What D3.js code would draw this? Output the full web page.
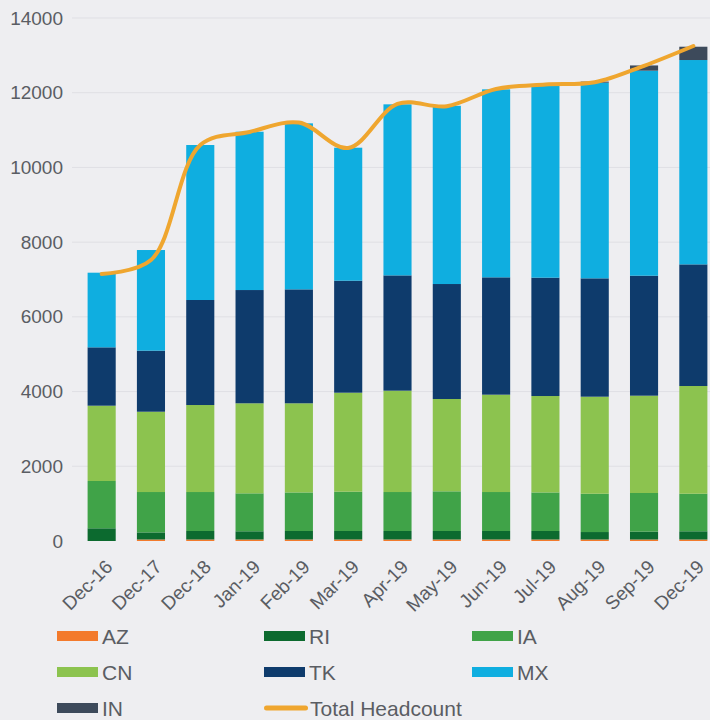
<!DOCTYPE html>
<html><head><meta charset="utf-8">
<script src="https://cdn.jsdelivr.net/npm/d3@7"></script>
<style>
html,body{margin:0;padding:0;background:#eeeef1;}
svg{display:block;font-family:"Liberation Sans",Arial,sans-serif;}
</style></head>
<body><svg id="c" width="710" height="720"></svg>
<script>
const categories = ["Dec-16","Dec-17","Dec-18","Jan-19","Feb-19","Mar-19","Apr-19","May-19","Jun-19","Jul-19","Aug-19","Sep-19","Dec-19"];
const AZ = [0,40,40,40,40,40,40,40,40,40,40,40,40];
const RI = [340,190,228,220,228,228,228,228,228,228,200,210,220];
const IA = [1266,1081,1043,1016,1032,1052,1043,1062,1043,1032,1025,1035,1005];
const CN = [2016,2150,2329,2410,2386,2650,2713,2471,2606,2581,2598,2605,2884];
const TK = [1562,1634,2811,3032,3050,2998,3086,3078,3141,3168,3168,3212,3256];
const MX = [1998,2694,4149,4238,4444,3560,4579,4771,5032,5157,5237,5488,5470];
const IN = [0,0,0,0,0,0,0,0,0,0,30,140,356];
const totalHeadcount = [7150,7520,10600,10950,11200,10520,11700,11640,12100,12220,12280,12720,13250];
const yTicks = [0,2000,4000,6000,8000,10000,12000,14000];

const seriesNames = ["AZ","RI","IA","CN","TK","MX","IN"];
const seriesData = {AZ,RI,IA,CN,TK,MX,IN};
const colors = {AZ:"#f37a2c",RI:"#0c6a2f",IA:"#40a348",CN:"#8cc34f",TK:"#0e3b6c",MX:"#0faee0",IN:"#3d4a5b"};
const lineColor = "#efa62f";

const rows = categories.map((c,i)=>{const o={cat:c}; seriesNames.forEach(s=>o[s]=seriesData[s][i]); return o;});
const stack = d3.stack().keys(seriesNames)(rows);

const svg = d3.select("#c");
const x = d3.scaleBand().domain(categories).range([77,718]).paddingInner(0.43).paddingOuter(0.215);
const y = d3.scaleLinear().domain([0,14000]).range([541,18]);

// grid
svg.append("g").selectAll("line").data(yTicks.slice(1)).join("line")
  .attr("x1",72).attr("x2",710).attr("y1",d=>y(d)).attr("y2",d=>y(d))
  .attr("stroke","#dfdfe4").attr("stroke-width",1);

// y axis
const yAxis = svg.append("g").attr("transform","translate(63,0)")
  .call(d3.axisLeft(y).tickValues(yTicks).tickSize(0).tickPadding(0).tickFormat(d3.format("d")));
yAxis.select(".domain").remove();
yAxis.selectAll("text").attr("fill","#5a5d63").attr("font-size",19).attr("font-family","Liberation Sans, Arial, sans-serif");

// bars
svg.append("g").selectAll("g").data(stack).join("g")
  .attr("fill",d=>colors[d.key])
  .selectAll("rect").data(d=>d).join("rect")
  .attr("x",d=>x(d.data.cat)).attr("width",x.bandwidth())
  .attr("y",d=>y(d[1])).attr("height",d=>Math.max(0,y(d[0])-y(d[1])));

// x axis
const xAxis = svg.append("g").attr("transform","translate(0,541)")
  .call(d3.axisBottom(x).tickSize(0).tickPadding(0));
xAxis.select(".domain").remove();
xAxis.selectAll(".tick text")
  .attr("fill","#5a5d63").attr("font-size",19).attr("font-family","Liberation Sans, Arial, sans-serif")
  .attr("text-anchor","end").attr("dy",0).attr("y",0)
  .attr("transform","translate(12,27) rotate(-45)");

// line
const line = d3.line().x((d,i)=>x(categories[i])+x.bandwidth()/2).y(d=>y(d)).curve(d3.curveCatmullRom.alpha(0.5));
svg.append("path").datum(totalHeadcount).attr("d",line)
  .attr("fill","none").attr("stroke",lineColor).attr("stroke-width",4).attr("stroke-linecap","round");

// legend
const legendItems = [
  {name:"AZ",type:"bar"},{name:"RI",type:"bar"},{name:"IA",type:"bar"},
  {name:"CN",type:"bar"},{name:"TK",type:"bar"},{name:"MX",type:"bar"},
  {name:"IN",type:"bar"},{name:"Total Headcount",type:"line"}
];
const colX = [57,264,472], rowY = [636,672,708];
const lg = svg.append("g").selectAll("g").data(legendItems).join("g")
  .attr("transform",(d,i)=>`translate(${colX[i%3]},${rowY[Math.floor(i/3)]})`);
lg.append("rect").attr("x",0).attr("width",d=>d.type==="bar"?41:44)
  .attr("y",d=>d.type==="bar"?-5:-2.5).attr("height",d=>d.type==="bar"?10:5)
  .attr("rx",d=>d.type==="bar"?0:2.5)
  .attr("fill",d=>d.type==="bar"?colors[d.name]:lineColor);
lg.append("text").attr("x",d=>d.type==="bar"?45:46).attr("y",0).attr("dy","0.36em")
  .attr("font-size",21).attr("fill","#5a5d63")
  .text(d=>d.name);
</script></body></html>
